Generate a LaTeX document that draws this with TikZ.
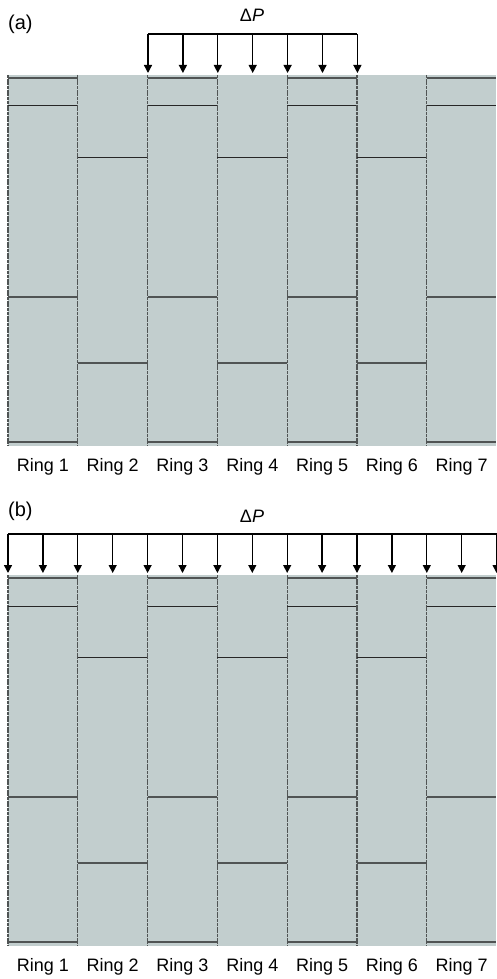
\documentclass[tikz,border=0pt]{standalone}
\usepackage{fontspec}
\setmainfont{Liberation Sans}
\usetikzlibrary{arrows.meta}
\definecolor{ringgrey}{RGB}{194,206,206}
\definecolor{edgegrey}{RGB}{80,84,84}
\tikzset{
	wall/.style={edgegrey, line width=1.2pt, dash pattern=on 3pt off 0.7pt},
	seam/.style={edgegrey, line width=1.4pt},
	thinseam/.style={black!85, line width=1pt},
	load/.style={-{Triangle[length=8pt,width=8pt]}, line width=1.3pt},
	lbl/.style={font=\fontsize{18}{21}\selectfont, inner sep=0pt},
	tag/.style={font=\fontsize{20}{24}\selectfont, inner sep=0pt}
}

\begin{document}
\begin{tikzpicture}[x=1pt,y=-1pt]
	\useasboundingbox (0,0) rectangle (496,979);
	\foreach \p/\o/\s/\n/\t/\tb in {a/0/148/6/(a)/30, b/500/8/14/(b)/16}{
		\begin{scope}[shift={(0,\o)}]
			\fill[ringgrey] (8,75) rectangle (496,446);
			\foreach \k in {1,...,7}{
				\pgfmathsetmacro{\xl}{8+69.8*(\k-1)}
				\pgfmathsetmacro{\xr}{min(8+69.8*\k,496)}
				\draw[wall] (\xl,75) -- (\xl,446);
				\ifodd\k
					\draw[seam] (\xl,78) -- (\xr,78);
					\draw[thinseam] (\xl,106) -- (\xr,106);
					\draw[seam] (\xl,297) -- (\xr,297);
					\draw[seam] (\xl,442) -- (\xr,442);
				\else
					\draw[thinseam] (\xl,157) -- (\xr,157);
					\draw[seam] (\xl,363) -- (\xr,363);
				\fi
				\node[lbl, anchor=base] (ring-\p\k) at (8+69.8*\k-34.9,471) {Ring \k};
			}
			\foreach \j in {0,...,\n}{
				\coordinate (top-\p\j) at (\s+34.9*\j,34);
				\coordinate (tip-\p\j) at (\s+34.9*\j,73);
				\draw[load] (top-\p\j) -- (tip-\p\j);
			}
			\draw[line width=1.3pt] (top-\p0) -- (top-\p\n);
			\node[lbl, anchor=base] (dp-\p) at (252,22) {Δ\textit{P}};
		\end{scope}
		\node[tag, anchor=base west] (tag-\p) at (8,\o+\tb) {\t};
	}
\end{tikzpicture}
\end{document}
